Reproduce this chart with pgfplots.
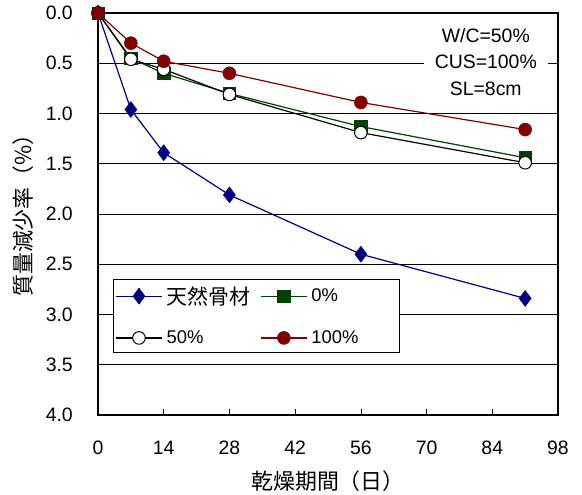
\documentclass[border=0pt]{standalone}
\usepackage{fontspec}
\setmainfont{Liberation Sans}
\newfontfamily\cjk{Noto Sans CJK JP}
\usepackage{pgfplots}
\pgfplotsset{compat=1.18}
\definecolor{navyblue}{RGB}{0,0,128}
\definecolor{darkgreen}{RGB}{0,64,0}
\definecolor{darkred}{RGB}{128,0,0}

\begin{document}
\begin{tikzpicture}
\begin{axis}[
  scale only axis, width=460bp, height=402bp,
  xmin=0, xmax=98, ymin=0, ymax=4, y dir=reverse,
  xtick={0,14,...,98}, ytick={0,0.5,...,4},
  yticklabel style={/pgf/number format/fixed, /pgf/number format/fixed zerofill,
    /pgf/number format/precision=1},
  /pgf/number format/assume math mode=true,
  tick label style={font=\fontsize{19.5}{22}\selectfont, inner sep=0pt},
  xticklabel style={anchor=center, yshift=-33bp},
  yticklabel style={anchor=east, xshift=-25bp},
  ymajorgrids, grid style={black, line width=0.7pt},
  tick align=inside, tick pos=left, major tick length=6bp,
  tick style={black, line width=0.7pt},
  axis line style={black, line width=1.1pt},
  xlabel={\cjk 乾燥期間（日）},
  ylabel={\cjk 質量減少率（\%）},
  label style={font=\fontsize{22}{24}\selectfont},
  xlabel style={at={(axis description cs:0.5,-0.164)}, anchor=center},
  ylabel style={at={(axis description cs:-0.163,0.51)}, anchor=center},
  every axis plot/.append style={line width=1.2pt},
  legend columns=2,
  legend style={at={(0.0326,0.338)}, anchor=north west, draw=black, line width=0.8pt,
    font=\fontsize{18.5}{21}\selectfont, row sep=21bp, inner xsep=2bp, inner ysep=5bp,
    nodes={inner xsep=4bp},
    /tikz/every odd column/.append style={column sep=0bp},
    /tikz/every even column/.append style={column sep=6bp}},
  legend cell align=left,
  legend image code/.code={\draw[mark repeat=2,mark phase=2] plot coordinates {(0bp,0bp) (23bp,0bp) (46bp,0bp)};},
]
\addplot[navyblue, mark=diamond*, mark size=8bp, mark options={fill=navyblue, line width=0.5pt}]
  coordinates {(0,0) (7,0.96) (14,1.39) (28,1.81) (56,2.40) (91,2.84)};
\addlegendentry{\cjk\fontsize{21}{23}\selectfont 天然骨材}
\addplot[darkgreen, mark=square*, mark size=6.2bp, mark options={fill=darkgreen, line width=0.5pt}]
  coordinates {(0,0) (7,0.45) (14,0.60) (28,0.80) (56,1.13) (91,1.44)};
\addlegendentry{0\%}
\addplot[black, mark=*, mark size=6.3bp, mark options={fill=white, line width=1pt}]
  coordinates {(0,0) (7,0.46) (14,0.56) (28,0.81) (56,1.19) (91,1.49)};
\addlegendentry{50\%}
\addplot[darkred, mark=*, mark size=6.5bp, mark options={fill=darkred, line width=0.5pt}]
  coordinates {(0,0) (7,0.30) (14,0.48) (28,0.60) (56,0.89) (91,1.16)};
\addlegendentry{\makebox[82bp][l]{100\%}}
\node[fill=white, align=center, inner xsep=11bp, inner ysep=1bp,
  font=\fontsize{19.5}{27}\selectfont] at (axis description cs:0.843,0.878)
  {W/C=50\%\\CUS=100\%\\SL=8cm};
\end{axis}
\pgfresetboundingbox
\path (-98bp,-80bp) rectangle (484bp,415bp);
\end{tikzpicture}
\end{document}
